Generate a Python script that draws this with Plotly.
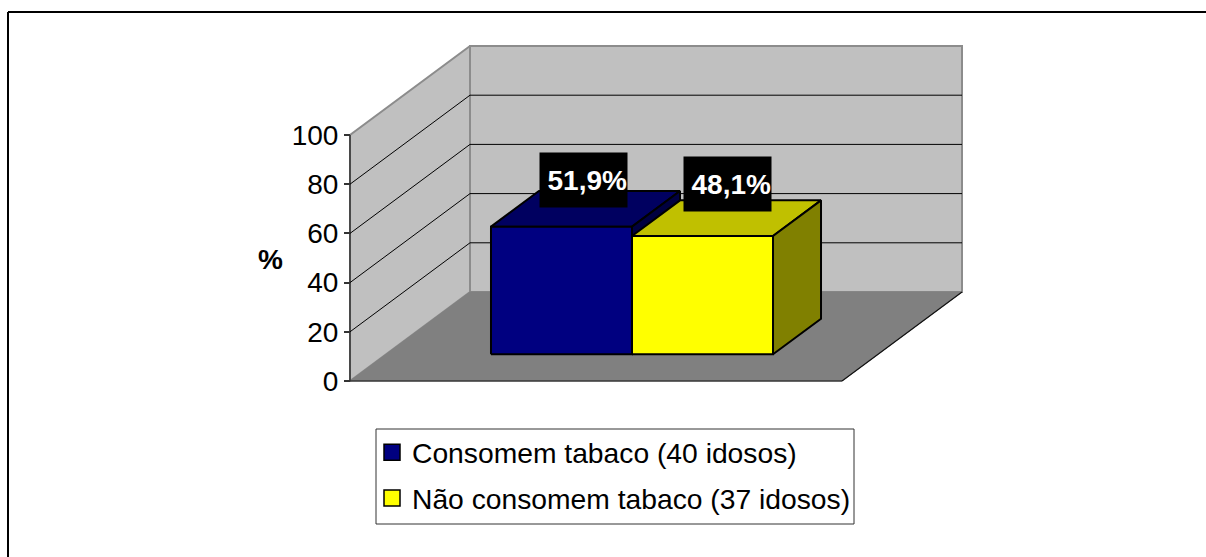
import plotly.graph_objects as go

# ---- data ----
series_names = ["Consomem tabaco (40 idosos)", "Não consomem tabaco (37 idosos)"]
series_values = [51.9, 48.1]
value_labels = ["51,9%", "48,1%"]
y_ticks = [0, 20, 40, 60, 80, 100]
y_title = "%"

# ---- oblique projection in data units: x = share of the floor width, y = percent, d = depth ----
W, H = 1206, 557
X0, XW = 350, 492
Y0, Y100 = 381, 135
PY = (Y0 - Y100) / 100
DX, DY = 120 / XW, 89 / PY
gap = 0.2134
bar_w = 0.2866
d_front, d_back = 0.3, 0.7
FONT = "Liberation Sans"
FS = 28


def P(x, y, d=0.0):
    return x + d * DX, y + d * DY


def poly(fig, pts, fill, line="black", lw=2):
    xs, ys = zip(*[P(*p) for p in pts + [pts[0]]])
    fig.add_trace(go.Scatter(x=list(xs), y=list(ys), mode="lines", fill="toself", fillcolor=fill,
                             line=dict(color=line, width=lw), hoverinfo="skip", showlegend=False))


def seg(fig, a, b, color="black", lw=1):
    xs, ys = zip(P(*a), P(*b))
    fig.add_trace(go.Scatter(x=list(xs), y=list(ys), mode="lines", line=dict(color=color, width=lw),
                             hoverinfo="skip", showlegend=False))


fig = go.Figure()
WALL, FLOOR, EDGE = "#c0c0c0", "#808080", "#8c8c8c"
top = y_ticks[-1]

# walls and floor
poly(fig, [(0, 0, 0), (0, top, 0), (0, top, 1), (0, 0, 1)], WALL, EDGE, 2)
poly(fig, [(0, 0, 1), (0, top, 1), (1, top, 1), (1, 0, 1)], WALL, EDGE, 2)
poly(fig, [(0, 0, 0), (1, 0, 0), (1, 0, 1), (0, 0, 1)], FLOOR, FLOOR, 1)
seg(fig, (0, 0, 0), (1, 0, 0), "#111111", 1.2)
seg(fig, (1, 0, 0), (1, 0, 1), "#111111", 1.2)
seg(fig, (0, 0, 0), (0, top, 0), "#333333", 1.5)
for t in y_ticks[1:-1]:
    seg(fig, (0, t, 0), (0, t, 1), "black", 1)
    seg(fig, (0, t, 1), (1, t, 1), "black", 1)

# bars
front = ["#000080", "#ffff00"]
roof = ["#000060", "#c0c000"]
side = ["#000040", "#808000"]
for i, v in enumerate(series_values):
    x0 = gap + i * bar_w
    x1 = x0 + bar_w
    poly(fig, [(x0, v, d_front), (x0, v, d_back), (x1, v, d_back), (x1, v, d_front)], roof[i])
    poly(fig, [(x1, 0, d_front), (x1, 0, d_back), (x1, v, d_back), (x1, v, d_front)], side[i])
    poly(fig, [(x0, 0, d_front), (x1, 0, d_front), (x1, v, d_front), (x0, v, d_front)], front[i])

# legend entries
for name, c in zip(series_names, front):
    fig.add_trace(go.Scatter(x=[None], y=[None], mode="markers", name=name, legendgroup=name,
                             marker=dict(symbol="square", size=16, color=c, line=dict(color="black", width=1.5))))

# data labels
label_shift = [(-2, 29), (1, 34)]
for i, (v, lab) in enumerate(zip(series_values, value_labels)):
    xc = gap + (i + 0.5) * bar_w
    lx, ly = P(xc, v, 0.5)
    fig.add_annotation(x=lx, y=ly, text=f"<b>{lab}</b>", showarrow=False, bgcolor="black",
                       width=87, height=54, align="right", valign="middle", borderpad=0,
                       font=dict(family=FONT, size=FS, color="white"),
                       xshift=label_shift[i][0], yshift=label_shift[i][1])

# axis title
fig.add_annotation(xref="paper", yref="paper", x=270 / W, y=1 - 259 / H, xanchor="center", yanchor="middle",
                   text=f"<b>{y_title}</b>", showarrow=False, font=dict(family=FONT, size=FS, color="black"))

fig.update_layout(
    width=W, height=H, margin=dict(l=0, r=0, t=0, b=0, autoexpand=False),
    paper_bgcolor="white", plot_bgcolor="white",
    font=dict(family=FONT, size=FS, color="black"),
    xaxis=dict(range=[-X0 / XW, (W - X0) / XW], visible=False, domain=[0, 1]),
    yaxis=dict(range=[(Y0 - H) / PY, Y0 / PY], tickmode="array", tickvals=y_ticks, showgrid=False, zeroline=False,
               showline=False, ticks="outside", ticklen=6, tickcolor="#333333", tickwidth=1.5,
               tickfont=dict(family=FONT, size=FS, color="black"),
               anchor="free", position=X0 / W, side="left"),
    legend=dict(x=372 / W, y=1 - 427.5 / H, xanchor="left", yanchor="top", bgcolor="rgba(0,0,0,0)",
                borderwidth=0, itemsizing="trace", tracegroupgap=6,
                font=dict(family=FONT, size=28.25, color="black")),
    shapes=[dict(type="line", xref="paper", yref="paper", x0=8 / W, x1=1, y0=1 - 12 / H, y1=1 - 12 / H,
                 line=dict(color="black", width=2)),
            dict(type="line", xref="paper", yref="paper", x0=8 / W, x1=8 / W, y0=1 - 12 / H, y1=0,
                 line=dict(color="black", width=2)),
            dict(type="rect", xref="paper", yref="paper", x0=376 / W, x1=854 / W, y0=1 - 429 / H, y1=1 - 524 / H,
                 line=dict(color="#333333", width=1), layer="below")],
)
fig.write_html("out.html", config=dict(displayModeBar=False),
               post_script="document.body.style.margin='0';document.body.style.overflow='hidden';")
